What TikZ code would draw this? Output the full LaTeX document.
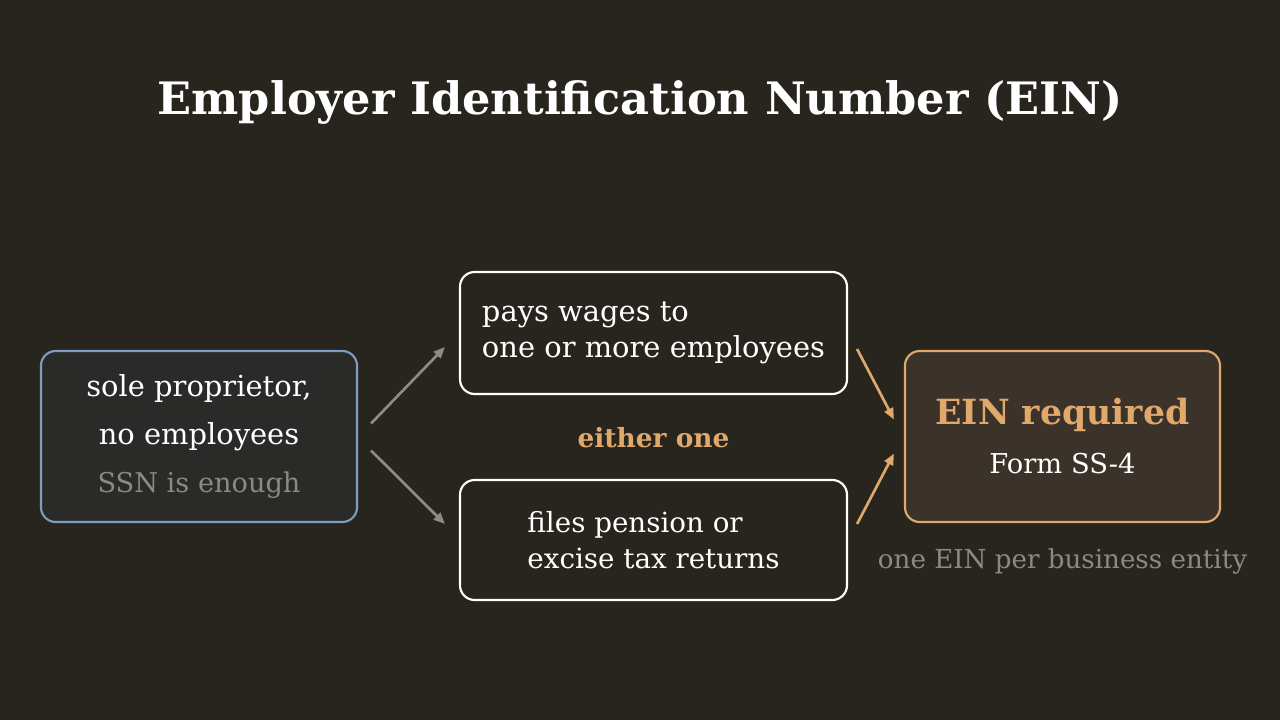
\documentclass[tikz,border=0pt]{standalone}
\usepackage{fontspec}
\setmainfont{DejaVu Serif}
\usetikzlibrary{arrows.meta}

\definecolor{bgcol}{HTML}{28251F}
\definecolor{leftfill}{HTML}{2A2B28}
\definecolor{leftline}{HTML}{7E9CBF}
\definecolor{einfill}{HTML}{3B3229}
\definecolor{einline}{HTML}{E0A86A}
\definecolor{dimtext}{HTML}{8A8A82}
\definecolor{arrowgray}{HTML}{8C8C85}

\tikzset{
  box/.style={draw, rounded corners=11pt, line width=1.6pt, text=white},
  flow/.style={line width=2pt, -{Triangle[length=8.5pt,width=7pt]}},
}

\begin{document}
\begin{tikzpicture}[x=0.75pt, y=-0.75pt]
    % Background
    \fill[bgcol] (0,0) rectangle (1280,720);
    \useasboundingbox (0,0) rectangle (1280,720);

    % Title
    \node[text=white, anchor=base, font=\fontsize{33.5}{40}\selectfont\bfseries] (title) at (640,115) {Employer Identification Number (EIN)};

    % Left box
    \node[box, draw=leftline, fill=leftfill, minimum width=316*0.75pt, minimum height=171*0.75pt,
          align=center, font=\fontsize{21.7}{36}\selectfont] (sole) at (199,436.5)
          {sole proprietor,\\ no employees\\ \textcolor{dimtext}{\fontsize{20.4}{36}\selectfont SSN is enough}};

    % Middle boxes
    \node[box, draw=white, fill=bgcol, minimum width=387*0.75pt, minimum height=122*0.75pt,
          align=left, font=\fontsize{21.7}{27}\selectfont] (wages) at (653.5,333)
          {pays wages to\\ one or more employees};
    \node[box, draw=white, fill=bgcol, minimum width=387*0.75pt, minimum height=120*0.75pt,
          align=left, font=\fontsize{20.8}{27}\selectfont] (pension) at (653.5,540)
          {files pension or\\ excise tax returns};
    \node[text=einline, font=\fontsize{19.8}{24}\selectfont\bfseries] (either) at (653.5,438) {either one};

    % Right box
    \node[box, draw=einline, fill=einfill, minimum width=315*0.75pt, minimum height=171*0.75pt] (ein) at (1062.5,436.5) {};
    \node[text=einline, font=\fontsize{26}{30}\selectfont\bfseries] (einreq) at (1062.5,414.5) {EIN required};
    \node[text=white, font=\fontsize{20.5}{24}\selectfont] (form) at (1062.5,464) {Form SS-4};
    \node[text=dimtext, font=\fontsize{19.6}{24}\selectfont] (note) at (1062.5,561) {one EIN per business entity};

    % Arrows
    \draw[flow, arrowgray] ([shift={(13,-13)}]sole.east) -- ([shift={(-14,14)}]wages.west);
    \draw[flow, arrowgray] ([shift={(13,14)}]sole.east) -- ([shift={(-14,-16)}]pension.west);
    \draw[flow, einline] ([shift={(9,16)}]wages.east) -- ([shift={(-10,-17)}]ein.west);
    \draw[flow, einline] ([shift={(9,-16)}]pension.east) -- ([shift={(-10,17)}]ein.west);
\end{tikzpicture}
\end{document}
